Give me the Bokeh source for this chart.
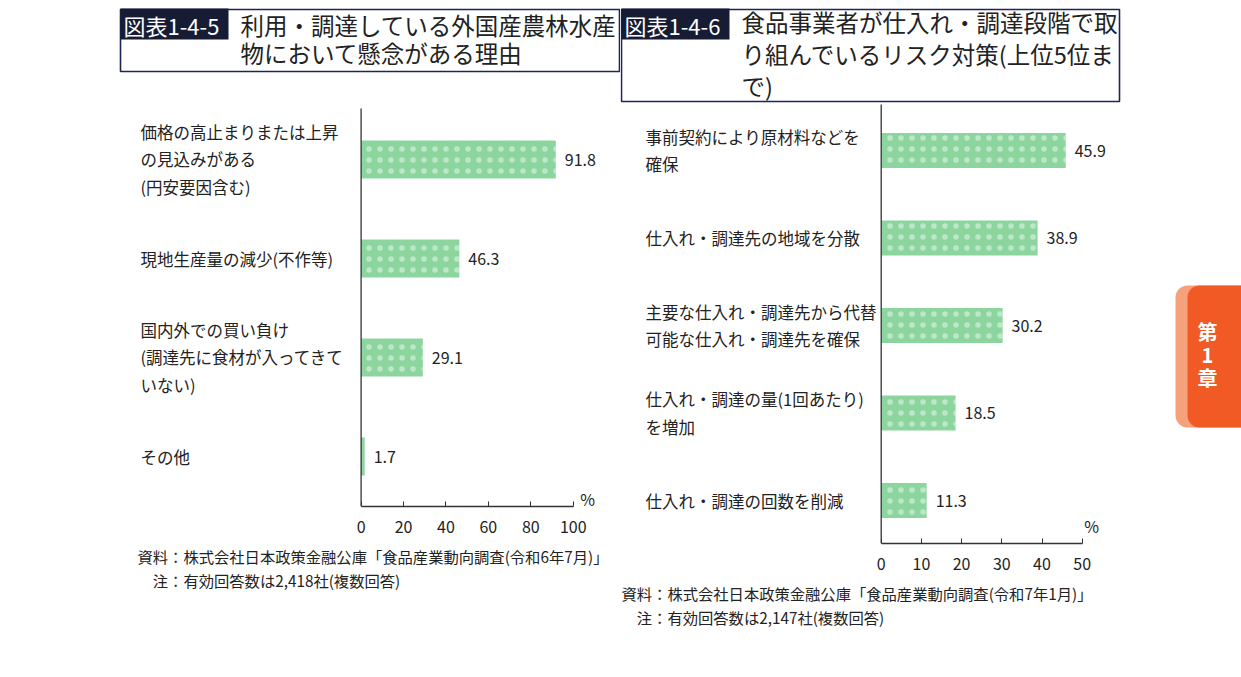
from bokeh.embed import file_html
from bokeh.resources import INLINE
from bokeh.plotting import figure
from bokeh.layouts import row
from bokeh.models import Range1d, FixedTicker, Title, ColumnDataSource
from bokeh.core.properties import value

FONT = "Noto Sans CJK JP"
NAVY = "#1f2552"
DARK = "#161c33"
GREEN = "#8dd59f"
TEXT = "#222222"
AXIS = "#333333"

# 図表1-4-5
left_title_no = "図表1-4-5"
left_title = "利用・調達している外国産農林水産\n物において懸念がある理由"
left_labels = [
    "価格の高止まりまたは上昇\nの見込みがある\n(円安要因含む)",
    "現地生産量の減少(不作等)",
    "国内外での買い負け\n(調達先に食材が入ってきて\nいない)",
    "その他",
]
left_values = [91.8, 46.3, 29.1, 1.7]
left_ticks = [0, 20, 40, 60, 80, 100]
left_notes = "資料：株式会社日本政策金融公庫「食品産業動向調査(令和6年7月)」\n\u3000注：有効回答数は2,418社(複数回答)"

# 図表1-4-6
right_title_no = "図表1-4-6"
right_title = "食品事業者が仕入れ・調達段階で取\nり組んでいるリスク対策(上位5位ま\nで)"
right_labels = [
    "事前契約により原材料などを\n確保",
    "仕入れ・調達先の地域を分散",
    "主要な仕入れ・調達先から代替\n可能な仕入れ・調達先を確保",
    "仕入れ・調達の量(1回あたり)\nを増加",
    "仕入れ・調達の回数を削減",
]
right_values = [45.9, 38.9, 30.2, 18.5, 11.3]
right_ticks = [0, 10, 20, 30, 40, 50]
right_notes = "資料：株式会社日本政策金融公庫「食品産業動向調査(令和7年1月)」\n\u3000注：有効回答数は2,147社(複数回答)"

chapter = "第\n1\n章"

BOTTOM = 120  # same bottom border for both plots (row aligns them)


def panel(left_px, width, axis_y, axis_top, zero_x, unit_px, bar0_y, step_y, bar_h,
          labels, values, ticks, label_x, label_lh, pct_y, pct_off, notes, note_x):
    p = figure(width=width, height=axis_y + BOTTOM,
               x_range=Range1d((left_px - zero_x) / unit_px, (left_px + width - zero_x) / unit_px),
               y_range=Range1d((axis_y - bar0_y) / step_y, (0 - bar0_y) / step_y),
               output_backend="svg", toolbar_location=None, y_axis_location=None,
               min_border_left=0, min_border_right=0, min_border_top=0,
               min_border_bottom=BOTTOM)
    p.outline_line_color = None
    p.xgrid.grid_line_color = None
    p.ygrid.grid_line_color = None
    # page-pixel ranges for decorations
    p.extra_x_ranges = {"px": Range1d(left_px, left_px + width)}
    p.extra_y_ranges = {"px": Range1d(axis_y, 0)}

    src = ColumnDataSource(dict(y=list(range(len(values))), v=values, label=labels,
                                t=[f"{v:.1f}" for v in values]))
    p.hbar(y="y", left=0, right="v", height=bar_h, source=src, fill_color=GREEN,
           line_color=None, hatch_pattern=".", hatch_color="white", hatch_alpha=0.42,
           hatch_scale=11, hatch_weight=0.1)
    p.text(x="v", y="y", text="t", source=src, x_offset=9, text_baseline="middle",
           text_align="left", text_font=value(FONT), text_font_size="16px", text_color=TEXT)
    p.text(x=label_x, y="y", text="label", source=src, x_range_name="px",
           text_baseline="middle", text_align="left", text_line_height=label_lh,
           text_font=value(FONT), text_font_size="16.5px", text_color=TEXT)

    # vertical axis line
    p.segment(x0=0, x1=0, y0=axis_top, y1=axis_y, y_range_name="px",
              line_color=AXIS, line_width=1.3)
    p.text(x=[ticks[-1]], y=[pct_y], text=["%"], x_offset=pct_off, y_range_name="px",
           text_baseline="middle", text_font=value(FONT), text_font_size="16px",
           text_color=TEXT)

    ax = p.xaxis[0]
    ax.ticker = FixedTicker(ticks=ticks)
    ax.bounds = (ticks[0], ticks[-1])
    ax.axis_line_color = AXIS
    ax.axis_line_width = 1.3
    ax.major_tick_line_color = AXIS
    ax.major_tick_in = 5
    ax.major_tick_out = 0
    ax.minor_tick_line_color = None
    ax.major_label_standoff = 14
    ax.major_label_text_font = FONT
    ax.major_label_text_font_size = "16px"
    ax.major_label_text_color = TEXT

    p.add_layout(Title(text=notes, align="left", offset=note_x - left_px,
                       text_font=FONT, text_font_size="15.3px", text_font_style="normal",
                       text_line_height=1.13, text_color=TEXT, standoff=14), "below")
    return p


def title_box(p, x0, x1, y0, y1, no_x1, no_text, text, text_y, line_h):
    p.quad(left=x0, right=x1, top=y0, bottom=y1, fill_color=None, line_color=NAVY,
           line_width=1.6, x_range_name="px", y_range_name="px")
    p.quad(left=x0, right=no_x1, top=y0 - 1, bottom=y0 + 30, fill_color=DARK, line_color=None,
           x_range_name="px", y_range_name="px")
    p.text(x=[x0 + 3], y=[y0 + 15], text=[no_text], x_range_name="px", y_range_name="px",
           text_baseline="middle", text_font=value(FONT), text_font_size="22px",
           text_color="white")
    p.text(x=[no_x1 + 12], y=[text_y], text=[text], x_range_name="px", y_range_name="px",
           text_baseline="middle", text_line_height=line_h, text_font=value(FONT),
           text_font_size="23.5px", text_color=TEXT)


left = panel(0, 620, 506, 108, 360.6, 2.121, 159, 99, 0.385,
             left_labels, left_values, left_ticks, 140, 1.15, 498, 7, left_notes, 137)
title_box(left, 120, 619, 9, 71, 228, left_title_no, left_title, 38.5, 0.85)

right = panel(620, 621, 543, 104, 880.7, 4.02, 150, 87.5, 0.4,
              right_labels, right_values, right_ticks, 645, 1.13, 525, 2, right_notes, 621)
title_box(right, 621, 1119, 9, 101, 729, right_title_no, right_title, 53.5, 0.93)

# chapter tab
right.rect(x=[1220], y=[356], width=[90], height=[142], fill_color="#f5a27c", line_color=None,
           border_radius=12, x_range_name="px", y_range_name="px")
right.rect(x=[1232], y=[356], width=[90], height=[142], fill_color="#f15a24", line_color=None,
           border_radius=12, x_range_name="px", y_range_name="px")
right.text(x=[1207], y=[354], text=[chapter], x_range_name="px", y_range_name="px",
           text_align="center", text_baseline="middle", text_line_height=0.81,
           text_font=value(FONT), text_font_size="20px", text_font_style="bold",
           text_color="white")

page = row(left, right)
open("out.html", "w").write(file_html(page, INLINE))
